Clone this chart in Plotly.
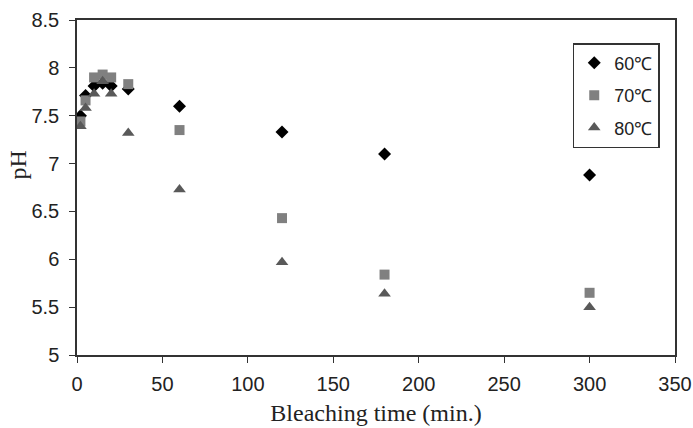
import plotly.graph_objects as go

time_min = [2, 5, 10, 15, 20, 30, 60, 120, 180, 300]
ph_60 = [7.50, 7.71, 7.81, 7.84, 7.81, 7.78, 7.60, 7.33, 7.10, 6.88]
ph_70 = [7.44, 7.66, 7.90, 7.93, 7.90, 7.83, 7.35, 6.43, 5.84, 5.65]
ph_80 = [7.39, 7.58, 7.73, 7.86, 7.73, 7.32, 6.73, 5.97, 5.64, 5.50]
series_names = ["60\u2103", "70\u2103", "80\u2103"]

fig = go.Figure()
fig.add_trace(go.Scatter(x=time_min, y=ph_60, mode="markers", name=series_names[0], legendgroup="a",
                         marker=dict(symbol="diamond", size=10, color="#000000")))
fig.add_trace(go.Scatter(x=time_min, y=ph_70, mode="markers", name=series_names[1], legendgroup="b",
                         marker=dict(symbol="square", size=10, color="#808080")))
fig.add_trace(go.Scatter(x=time_min, y=ph_80, mode="markers", name=series_names[2], legendgroup="c",
                         marker=dict(symbol="triangle-up", size=11, color="#595959")))

axis_common = dict(showgrid=False, zeroline=False, showline=True, linecolor="#333333",
                   linewidth=1.5, mirror=True, ticks="outside", ticklen=6, tickcolor="#333333",
                   automargin=False,
                   tickfont=dict(family="Liberation Sans, Arial", size=20, color="#222222"))

fig.update_layout(
    width=693, height=428,
    margin=dict(l=77, r=18, t=20, b=73),
    plot_bgcolor="white", paper_bgcolor="white",
    xaxis=dict(range=[0, 350], dtick=50, **axis_common, ticklabelstandoff=4,
               title=dict(text="Bleaching time (min.)", standoff=10,
                          font=dict(family="Liberation Serif, Times New Roman", size=24, color="#222222"))),
    yaxis=dict(range=[5, 8.5], dtick=0.5, **axis_common, ticklabelstandoff=6),
    legend=dict(x=0.829, y=0.931, xanchor="left", yanchor="top",
                bordercolor="#333333", borderwidth=1.5, bgcolor="white",
                font=dict(family="Liberation Sans, Arial", size=18, color="#222222"),
                traceorder="grouped", tracegroupgap=6, itemwidth=30),
    showlegend=True,
    annotations=[dict(text="pH", xref="paper", yref="paper", x=-0.098, y=0.567,
                      xanchor="center", yanchor="middle", textangle=-90, showarrow=False,
                      font=dict(family="Liberation Serif, Times New Roman", size=24, color="#222222"))],
)

fig.write_html("out.html")
